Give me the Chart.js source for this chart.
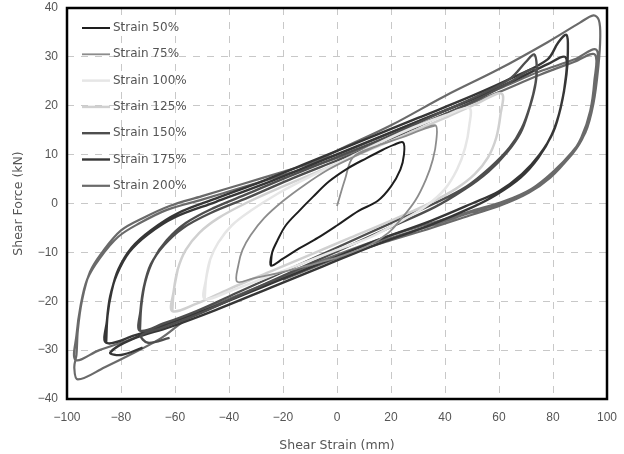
<!DOCTYPE html>
<html>
<head>
<meta charset="utf-8">
<title>Shear Force vs Shear Strain</title>
<script src="https://cdn.jsdelivr.net/npm/chart.js@4.4.1/dist/chart.umd.min.js"></script>
<style>
  html, body { margin: 0; padding: 0; background: #fff; }
  #wrap { width: 624px; height: 454px; }
</style>
</head>
<body>
<div id="wrap"><canvas id="hysteresisChart" width="624" height="454"></canvas></div>
<script>
// axis ticks
const xTicks = [-100, -80, -60, -40, -20, 0, 20, 40, 60, 80, 100];
const yTicks = [-40, -30, -20, -10, 0, 10, 20, 30, 40];

const seriesLabels = ["Strain 50%", "Strain 75%", "Strain 100%", "Strain 125%", "Strain 150%", "Strain 175%", "Strain 200%"];

// loops, [strain mm, force kN]
const strain50 = [
  [-24.5, -12.7], [-24, -10], [-22, -7.5], [-19, -4.5], [-14, -1.5], [-9, 1.3], [-3, 4.5], [4, 7.2],
  [11, 9.3], [17, 11], [21, 12], [24.5, 12.5], [24.8, 10], [23.5, 7], [20, 3.5], [15, 0.5], [8, -1.5],
  [0, -4.5], [-7, -7], [-14, -9.2], [-20, -11.3], [-24.5, -12.7], [-24, -10], [-22, -7.5]
];
const strain75 = [
  [0, -0.5], [3, 5], [6, 9.5], [15, 11.8], [24, 13.5], [31, 15], [36.5, 16], [36.8, 13], [35.5, 9],
  [33, 5], [29, 0.6], [24, -3], [19, -6], [12, -8.5], [3, -10.5], [-6, -12], [-15, -13.3], [-24, -14.5],
  [-31, -15.3], [-37, -16], [-36.5, -12.5], [-35, -9.5], [-32, -6.5], [-27, -3], [-20, 0.5], [-12, 3.8],
  [-3, 7], [6, 9.5], [15, 11.8], [24, 13.5], [31, 15], [36.5, 16]
];
const strain100 = [
  [-49, -19.5], [-48.5, -15.5], [-47, -11.5], [-44, -8], [-39, -4.5], [-32, -1.5], [-22, 2], [-10, 5.5],
  [3, 9], [16, 12.5], [28, 15.5], [40, 18], [49, 19.5], [49, 16], [47.5, 11.5], [44.5, 7], [40, 3],
  [33, -0.5], [24, -3.5], [12, -7], [0, -9.5], [-14, -12.5], [-28, -15.5], [-40, -18], [-49, -19.5],
  [-48.5, -15.5], [-47, -11.5]
];
const strain125 = [
  [-61, -22], [-60.5, -18], [-59, -13.5], [-56, -9.5], [-51, -6], [-44, -3], [-34, 0], [-20, 3.5],
  [-5, 7], [10, 10.5], [25, 14], [40, 17.5], [52, 20.5], [61, 22.5], [60.5, 18], [59, 13.5], [56, 9.5],
  [51, 6], [44, 3], [34, 0], [20, -3.5], [5, -7], [-10, -10.5], [-25, -14], [-40, -17.5], [-52, -20.5],
  [-61, -22], [-60.5, -18], [-59, -13.5]
];
const strain150 = [
  [-73, -26], [-72.5, -21], [-71, -16], [-68, -11.5], [-63, -7.5], [-56, -4], [-46, -1], [-33, 2],
  [-18, 5.5], [0, 9.5], [18, 13.5], [36, 18], [52, 22], [64, 25.5], [70, 29], [73, 30.5], [74, 28],
  [73.5, 24.5], [71.5, 20], [68.5, 15.5], [64, 11.5], [57, 7.5], [48, 3.5], [36, 0], [20, -4], [0, -9],
  [-18, -13.5], [-36, -18], [-52, -22], [-64, -24.5], [-73, -26],
  [-72.8, -22], [-71.5, -17], [-69, -12.5], [-64, -8.5], [-57, -5], [-47, -2], [-33, 1.2], [-18, 4.8],
  [0, 8.8], [18, 12.8], [36, 17.3], [52, 21.3], [64, 24.8], [72, 27.5], [73.8, 27], [73.2, 23.5],
  [71, 19], [68, 14.5], [63, 10.5], [56, 6.5], [47, 2.8], [36, -0.8], [20, -4.8], [0, -9.8], [-18, -14.3],
  [-36, -18.8], [-52, -22.8], [-64, -25.3], [-72.5, -27], [-70, -28.5], [-62, -27.5]
];
const strain175 = [
  [-85.5, -28.5], [-85, -23], [-83.5, -18], [-81, -13.5], [-76, -9], [-69, -5.5], [-59, -2], [-45, 1],
  [-28, 4.5], [-10, 8.5], [10, 13], [30, 17.5], [50, 22], [66, 26], [78, 29.5], [82, 33], [85, 34.5],
  [85.5, 31], [85, 26.5], [83, 20], [80, 14.5], [75, 10], [68.5, 6], [60, 2.5], [50, 0], [35, -3.5],
  [15, -7.5], [-5, -12], [-25, -16.5], [-45, -21], [-62, -24.5], [-75, -27], [-85.5, -28.5],
  [-85.2, -24], [-84, -19], [-81.5, -14.5], [-77, -10], [-70, -6.3], [-60, -2.8], [-45, 0.3], [-28, 3.8],
  [-10, 7.8], [10, 12.3], [30, 16.8], [50, 21.3], [66, 25.3], [78, 28.5], [84.5, 30], [84.8, 26],
  [82.8, 19.5], [79.5, 14], [74.5, 9.3], [68, 5.3], [59, 1.8], [50, -0.8], [35, -4.3], [15, -8.3],
  [-5, -12.8], [-25, -17.3], [-45, -21.8], [-62, -25.3], [-76, -27.8], [-84, -30.5], [-80, -31], [-72, -29.5]
];
const strain200 = [
  [-10, 8], [0, 10.8], [20, 16], [40, 22], [60, 27.5], [78, 33], [90, 37], [95, 38.5], [97, 37.5],
  [97.5, 34], [96.8, 28], [95, 20.5], [92, 14.5], [87, 10.5], [80, 6.5], [72, 3], [62, 0.5], [50, -1.5],
  [35, -4], [20, -6.5], [0, -10.5], [-20, -15], [-40, -19.8], [-55, -23.5], [-65, -27.5], [-75, -30.5],
  [-86, -33.5], [-96, -36], [-97.3, -33.5],
  [-96.5, -31], [-96, -26], [-94.5, -20], [-91.5, -14], [-87, -10], [-80, -5.5], [-72, -3], [-62, -0.5],
  [-50, 1.5], [-35, 4], [-20, 6.5], [0, 10], [20, 14.5], [40, 19], [60, 23.5], [75, 27], [88, 29.5],
  [96, 31.5], [96, 26], [94.5, 20], [91.5, 14], [87, 10], [80, 6], [72, 2.8], [62, 0.3], [50, -1.8],
  [35, -4.5], [20, -7], [0, -10.5], [-20, -15], [-40, -19.5], [-60, -24], [-75, -27.5], [-88, -30],
  [-96.8, -32],
  [-96.5, -27], [-95, -21], [-92.5, -15.5], [-88, -11.3], [-81, -6.8], [-73, -4], [-63, -1.3], [-50, 0.8],
  [-35, 3.3], [-20, 5.8], [0, 9.3], [20, 13.8], [40, 18.3], [60, 22.8], [75, 26.3], [88, 29], [95.5, 30.5],
  [95.3, 25], [93.8, 19], [90.5, 13.5], [86, 9.5], [79, 5.3], [71, 2.2], [61, -0.3], [50, -2.3],
  [35, -5], [20, -7.5], [0, -11.2], [-20, -15.6]
];

const seriesValues = [strain50, strain75, strain100, strain125, strain150, strain175, strain200];
const seriesColors = ["#1e1e1e", "#8c8c8c", "#e6e6e6", "#d0d0d0", "#4e4e4e", "#363636", "#6a6a6a"];
const seriesWidths = [2, 1.8, 2.5, 2.5, 2.4, 2.4, 2.2];

const ChartPage = {
  chartInstance: null,

  init: function () {
    const ctx = document.getElementById("hysteresisChart");

    const datasets = seriesValues.map(function (pts, i) {
      return {
        label: seriesLabels[i],
        data: pts.map(function (p) { return { x: p[0], y: p[1] }; }),
        borderColor: seriesColors[i],
        backgroundColor: seriesColors[i],
        borderWidth: seriesWidths[i],
        showLine: true,
        pointRadius: 0,
        tension: 0.35,
        fill: false,
      };
    });

    // frame round the plot area
    const framePlugin = {
      id: "frame",
      afterDatasetsDraw: function (chart) {
        const a = chart.chartArea;
        const c = chart.ctx;
        c.save();
        c.strokeStyle = "#000";
        c.lineWidth = 2.5;
        c.strokeRect(a.left, a.top, a.right - a.left, a.bottom - a.top);
        c.restore();
      },
    };

    // legend sits inside the plot, top left
    const innerLegend = {
      id: "innerLegend",
      afterDraw: function (chart) {
        const c = chart.ctx;
        c.save();
        c.font = "12px 'DejaVu Sans'";
        c.fillStyle = "#555";
        c.textBaseline = "middle";
        chart.data.datasets.forEach(function (ds, i) {
          const y = 28 + i * 26.3;
          c.strokeStyle = ds.borderColor;
          c.lineWidth = ds.borderWidth;
          c.beginPath();
          c.moveTo(82, y);
          c.lineTo(110, y);
          c.stroke();
          c.fillText(ds.label, 113, y);
        });
        c.restore();
      },
    };

    const minus = function (v) {
      return String(v).replace("-", "\u2212");
    };

    this.chartInstance = new Chart(ctx, {
      type: "scatter",
      data: { datasets: datasets },
      options: {
        responsive: false,
        animation: false,
        layout: { padding: { left: 7, right: 17, top: 8, bottom: 0 } },
        plugins: {
          legend: { display: false },
          tooltip: { enabled: false },
        },
        scales: {
          x: {
            type: "linear",
            min: -100,
            max: 100,
            afterBuildTicks: function (s) { s.ticks = xTicks.map(function (v) { return { value: v }; }); },
            afterFit: function (s) {
              s.height = 55;
              s.paddingLeft = 0;
              s.paddingRight = 0;
            },
            ticks: {
              color: "#555",
              font: { family: "'Liberation Sans'", size: 12 },
              padding: 11,
              callback: minus,
            },
            grid: { color: "#c8c8c8", lineWidth: 1, drawTicks: false },
            border: { display: false, dash: [7, 7] },
            title: {
              display: true,
              text: "Shear Strain (mm)",
              color: "#555",
              font: { family: "'DejaVu Sans'", size: 12.5 },
              padding: { top: 4, bottom: 1 },
            },
          },
          y: {
            type: "linear",
            min: -40,
            max: 40,
            afterBuildTicks: function (s) { s.ticks = yTicks.map(function (v) { return { value: v }; }); },
            afterFit: function (s) {
              s.width = 60;
              s.paddingTop = 0;
              s.paddingBottom = 0;
            },
            ticks: {
              color: "#555",
              font: { family: "'Liberation Sans'", size: 12 },
              padding: 9,
              callback: minus,
            },
            grid: { color: "#c8c8c8", lineWidth: 1, drawTicks: false },
            border: { display: false, dash: [7, 7] },
            title: {
              display: true,
              text: "Shear Force (kN)",
              color: "#555",
              font: { family: "'DejaVu Sans'", size: 12.5 },
              padding: { top: 4, bottom: 4 },
            },
          },
        },
      },
      plugins: [framePlugin, innerLegend],
    });
  },
};

ChartPage.init();
</script>
</body>
</html>
